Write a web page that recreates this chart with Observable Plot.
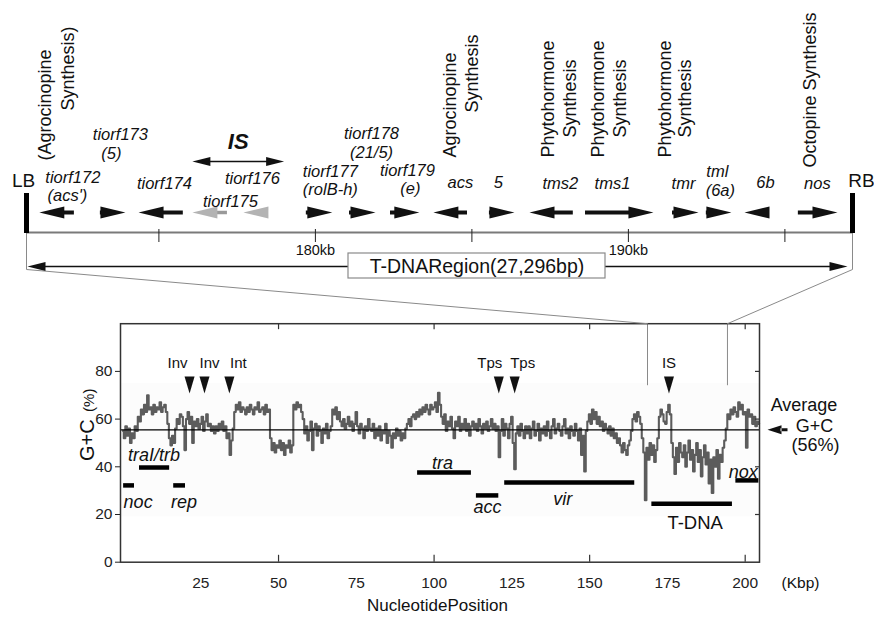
<!DOCTYPE html>
<html>
<head>
<meta charset="utf-8">
<script src="https://cdn.jsdelivr.net/npm/d3@7"></script>
<script src="https://cdn.jsdelivr.net/npm/@observablehq/plot@0.6"></script>
<style>
  body { margin: 0; background: #fff; }
  #fig { position: relative; width: 874px; height: 620px; overflow: hidden; background: #fff; }
  #fig svg { position: absolute; left: 0; top: 0; }
</style>
</head>
<body>
<div id="fig"></div>
<script>
// ---------------- DATA ----------------
// T-DNA gene map (genome coordinates, kb)
const borderName = ["LB", "RB"];
const borderPos = [170.77, 197.16];
const mapTicks = [175, 180, 185, 190, 195];
const mapTickLabels = [180, 190];
const geneName = ["tiorf172","tiorf173","tiorf174","tiorf175","tiorf176","tiorf177","tiorf178","tiorf179","acs","5","tms2","tms1","tmr","tml","6b","nos"];
const geneAlias = ["(acs')","(5)","","","","(rolB-h)","(21/5)","(e)","","","","","","(6a)","",""];
const geneStart = [171.18,173.13,174.35,176.07,177.70,179.71,181.09,182.40,183.77,185.56,186.84,188.63,191.41,192.49,193.71,195.43];
const geneEnd   = [172.30,173.93,175.78,177.19,178.50,180.54,181.92,183.32,184.86,186.36,188.24,190.80,192.24,193.29,194.50,196.68];
const geneStrand = [-1,1,-1,-1,-1,1,1,1,-1,1,-1,1,1,1,-1,1];
const isGenes = ["tiorf175","tiorf176"];
const isElement = [176.07, 179.0];
const isLabel = "IS";
const funcGene = ["tiorf172","acs","tms2","tms1","tmr","nos"];
const funcText = [["(Agrocinopine","Synthesis)"],["Agrocinopine","Synthesis"],["Phytohormone","Synthesis"],["Phytohormone","Synthesis"],["Phytohormone","Synthesis"],["Octopine Synthesis"]];
const regionLabel = "T-DNARegion(27,296bp)";

// G+C content along the plasmid (Kbp, % G+C), sampled every 0.5 kbp
const gcStart = 0, gcStep = 0.5;
const gcValues = [
  55,52,57,53,56,50,54,52,57,55,61,59,64,62,66,63,70,64,65,62,
  66,63,65,64,67,63,65,66,63,58,52,49,53,50,56,60,58,62,61,57,
  47,60,63,58,61,50,59,57,60,56,58,61,55,59,62,57,58,55,57,54,
  57,55,58,56,59,55,57,52,54,45,51,56,63,66,64,67,63,65,64,62,
  65,63,66,64,62,65,64,67,63,64,65,62,66,63,64,52,47,50,46,49,
  48,51,47,50,45,49,48,51,46,49,66,64,67,65,66,63,60,54,57,51,
  55,59,47,56,58,53,57,55,50,56,54,58,52,55,57,64,62,65,60,63,
  59,57,60,56,58,61,57,59,55,58,63,57,54,58,56,52,57,55,60,56,
  55,58,52,56,53,57,51,55,54,58,50,55,53,48,54,52,56,53,55,51,
  54,52,56,58,60,57,61,62,60,63,61,64,62,65,63,66,64,62,66,64,
  65,67,63,71,66,61,58,62,55,59,57,61,56,52,59,57,61,55,58,56,
  60,55,58,53,57,59,56,58,55,60,57,54,58,56,59,55,57,60,56,58,
  55,57,44,55,60,53,58,56,52,58,61,50,39,54,57,53,58,55,52,57,
  54,57,52,56,59,53,55,58,51,56,54,57,53,59,55,52,57,60,54,56,
  58,55,53,57,60,54,56,52,57,55,53,58,55,51,56,45,53,38,55,59,
  62,58,64,60,63,58,61,57,59,55,58,56,54,57,53,56,52,54,50,52,
  49,46,50,47,45,49,51,55,60,62,59,63,61,58,52,46,26,48,43,50,
  45,49,42,47,52,61,64,62,59,58,63,66,62,50,44,37,48,42,50,46,
  44,49,40,46,51,43,47,38,45,50,42,47,36,44,49,41,46,33,43,29,
  44,40,47,35,45,42,48,51,56,62,60,64,62,65,63,61,67,64,66,62,
  63,48,64,61,62,58,61,57,59,58
];
const gcDomain = [-0.8, 204.6];
const avgGC = 55.5;
const avgLabel = ["Average", "G+C", "(56%)"];
const xTickLabels = [25, 50, 75, 100, 125, 150, 175, 200];
const xMajorTicks = [50, 100, 150, 200];
const yTicks = [0, 20, 40, 60, 80];
const zoomWindow = [168.6, 194.3];
const locusName  = ["noc","traI/trb","rep","tra","acc","vir","T-DNA","nox"];
const locusStart = [0.2, 5.3, 16.3, 94.7, 113.6, 122.7, 170.0, 197.0];
const locusEnd   = [3.7, 15.0, 20.1, 112.0, 120.8, 164.5, 195.9, 204.4];
const locusLevel = [32.2, 39.7, 32.2, 37.6, 28.0, 33.4, 24.5, 34.3];
const siteName = ["Inv","Inv","Int","Tps","Tps","IS"];
const sitePos  = [21.4, 26.2, 34.2, 120.8, 125.9, 175.5];

// ---------------- LAYOUT / STYLE ----------------
const FONT = '"Liberation Sans", Arial, Helvetica, sans-serif';
const R = {arrow: 212, axisLine: 232, barTop: 193, tickTop: 229, tickBottom: 242, tickLabel: 250,
           isArrow: 161, isLabel: 141, region: 266, boxTop: 253, boxBottom: 278, knee: 269, borderLabel: 180};
const nameLayout = {
  tiorf172: [16, 177, 10.5, 195], tiorf173: [7.5, 134, -1.5, 153], tiorf174: [3.5, 183],
  tiorf175: [20.5, 201], tiorf176: [-3.5, 178], tiorf177: [11, 171, 11, 189],
  tiorf178: [9, 133, 9, 152], tiorf179: [2.5, 170, 5.5, 188], acs: [10, 182], "5": [-3.5, 182],
  tms2: [9, 183], tms1: [-7, 183], tmr: [-2, 183], tml: [-1.5, 171, 1.5, 190], "6b": [8.5, 182], nos: [-0.5, 183]
};
const funcLayout = {tiorf172: [[-11.5,160],[11.5,110]], acs: [[0,157],[22,112]], tms2: [[-3,157],[19,137]],
  tms1: [[-21,157],[1,137]], tmr: [[-20,157],[0,137]], nos: [[-7.5,167]]};
const locusLayout = {noc: [0, 16.7], "traI/trb": [-0.5, -12], rep: [4.5, 16.7], tra: [-2, -9],
  acc: [0, 11.7], vir: [-7, 17], "T-DNA": [3, 19], nox: [-4, -8]};
const siteLabelDx = [-12, 5, 9, -9, 8, 0];
const siteTipY = 70.7, siteLabelY = 83.5;

// custom arrowhead symbol: tip at origin, pointing right
const head = (L, H, S = 0, T = 0) => ({
  draw(ctx) {
    ctx.moveTo(0, 0); ctx.lineTo(-L, -H / 2); ctx.lineTo(-L, H / 2); ctx.closePath();
    if (S > 0) ctx.rect(-L - S, -T / 2, S + 1, T);
  }
});

// scales shared between the two panels
const topX = Plot.scale({x: {domain: borderPos, range: [26, 852]}});
const botX = Plot.scale({x: {domain: gcDomain, range: [120, 759]}});
const botY = Plot.scale({y: {domain: [0, 100], range: [561.7, 323.2]}});
const tShift = (v, dx) => topX.invert(topX.apply(v) + dx);
const bShift = (v, dx) => botX.invert(botX.apply(v) + dx);
const bShiftY = (v, dy) => botY.invert(botY.apply(v) + dy);

// ---------------- BOTTOM PANEL: G+C content ----------------
const gc = gcValues.map((v, i) => ({kbp: gcStart + i * gcStep, gc: v}));
const loci = locusName.map((name, i) => ({name, x1: locusStart[i], x2: locusEnd[i], y: locusLevel[i],
  mid: (locusStart[i] + locusEnd[i]) / 2}));
const locusText = loci.map(d => {
  const [dx, dy] = locusLayout[d.name];
  const base = d.name === "noc" ? d.x1 : d.mid;
  return {...d, tx: bShift(base, dx), ty: bShiftY(d.y, dy)};
});
const sites = siteName.map((name, i) => ({name, x: sitePos[i], lx: bShift(sitePos[i], siteLabelDx[i])}));
const xMax = gcDomain[1];
const avgText = [[44.5, -25], [55, -4], [56, 15]].map(([dx, dy], i) => ({t: avgLabel[i], x: bShift(xMax, dx), y: bShiftY(avgGC, dy)}));

const bottomPlot = Plot.plot({
  width: 874, height: 620,
  marginLeft: 120, marginRight: 115, marginTop: 323.2, marginBottom: 58.3,
  x: {domain: gcDomain, ticks: xTickLabels, tickSize: 0, tickPadding: 15, label: null},
  y: {domain: [0, 100], ticks: yTicks, tickSize: 5, tickPadding: 3, label: null},
  style: {fontFamily: FONT, fontSize: "15.5px", color: "#222", background: "white"},
  marks: [
    Plot.rect([0], {x1: gcDomain[0], x2: gcDomain[1], y1: 19, y2: 75, fill: "#fcfcfc"}),
    Plot.line(gc, {x: "kbp", y: "gc", curve: "step", stroke: "#5c5c5c", strokeWidth: 2.1}),
    Plot.ruleY([avgGC], {stroke: "#000", strokeWidth: 1.2}),
    Plot.ruleX(zoomWindow, {y1: 74, y2: 100, stroke: "#8a8a8a", strokeWidth: 1}),
    Plot.ruleY(loci, {x1: "x1", x2: "x2", y: "y", stroke: "#000", strokeWidth: 4.5}),
    Plot.text(locusText.filter(d => d.name === "noc"), {x: "tx", y: "ty", text: "name", textAnchor: "start",
      fontStyle: "italic", fontSize: 18, fontFamily: FONT, fill: "#111"}),
    Plot.text(locusText.filter(d => d.name !== "noc" && d.name !== "T-DNA"), {x: "tx", y: "ty", text: "name",
      fontStyle: "italic", fontSize: 18, fontFamily: FONT, fill: "#111"}),
    Plot.text(locusText.filter(d => d.name === "T-DNA"), {x: "tx", y: "ty", text: "name",
      fontSize: 18.5, fontFamily: FONT, fill: "#111"}),
    Plot.dot(sites, {x: "x", y: siteTipY, symbol: head(17, 10), rotate: 90, r: 5, fill: "#111", stroke: "none"}),
    Plot.text(sites, {x: "lx", y: siteLabelY, text: "name", fontSize: 15, fontFamily: FONT, fill: "#111"}),
    Plot.ruleX(xMajorTicks, {y1: 0, y2: 2.9, stroke: "#333", strokeWidth: 1.2}),
    Plot.ruleX(xMajorTicks, {y1: 97.5, y2: 100, stroke: "#333", strokeWidth: 1.2}),
    Plot.ruleY(yTicks.filter(d => d > 0), {x1: bShift(xMax, -4), x2: xMax, stroke: "#333", strokeWidth: 1.2}),
    Plot.frame({stroke: "#333", strokeWidth: 1.5}),
    Plot.dot([avgGC], {x: xMax, y: d => d, dx: 8, rotate: 180, symbol: head(14, 9, 6, 3), r: 5, fill: "#111", stroke: "none"}),
    Plot.text(avgText, {x: "x", y: "y", text: "t", fontSize: 18, fontFamily: FONT, fill: "#111"}),
    Plot.text(["NucleotidePosition"], {frameAnchor: "bottom", dx: -2.5, dy: 49, text: d => d, fontSize: 17, fontFamily: FONT, fill: "#111"}),
    Plot.text(["(Kbp)"], {frameAnchor: "bottom-right", dx: 41, dy: 26, textAnchor: "middle", text: d => d, fontSize: 15.5, fontFamily: FONT, fill: "#111"}),
    Plot.text(["G+C"], {frameAnchor: "left", dx: -33, dy: 18, rotate: -90, text: d => d, fontSize: 20, fontFamily: FONT, fill: "#111"}),
    Plot.text(["(%)"], {frameAnchor: "left", dx: -31, dy: -31, rotate: -90, text: d => d, fontSize: 15, fontFamily: FONT, fill: "#111"})
  ]
});

// ---------------- TOP PANEL: T-DNA gene map ----------------
const genes = geneName.map((name, i) => {
  const s = geneStrand[i], a = geneStart[i], b = geneEnd[i];
  const tip = s > 0 ? b : a, tail = s > 0 ? a : b;
  return {name, alias: geneAlias[i], strand: s, tip, tail, shaftEnd: tShift(tip, -s * 18),
          mid: (a + b) / 2, gray: isGenes.includes(name)};
});
const nameTexts = [];
genes.forEach(g => {
  const L = nameLayout[g.name];
  nameTexts.push({x: tShift(g.mid, L[0]), y: L[1], text: g.name});
  if (g.alias) nameTexts.push({x: tShift(g.mid, L[2]), y: L[3], text: g.alias});
});
const funcTexts = [];
funcGene.forEach((gname, i) => {
  const g = genes.find(d => d.name === gname);
  funcText[i].forEach((t, j) => {
    const [dx, yb] = funcLayout[gname][j];
    funcTexts.push({x: tShift(g.mid, dx), y: yb, text: t});
  });
});
const connectors = [0, 1].flatMap(i => [
  {k: i, x: borderPos[i], y: R.axisLine},
  {k: i, x: borderPos[i], y: R.knee},
  {k: i, x: topX.invert(botX.apply(zoomWindow[i])), y: botY.apply(100)}
]);
const borders = borderName.map((n, i) => ({n, x: borderPos[i]}));
const regionMidPx = 476.5, regionHalfPx = 128.5;
const regionBox = {x1: topX.invert(regionMidPx - regionHalfPx), x2: topX.invert(regionMidPx + regionHalfPx), x: topX.invert(regionMidPx)};
const regionEnds = [{x: tShift(borderPos[0], 1), rot: 180}, {x: tShift(borderPos[1], -5), rot: 0}];

const mapPlot = Plot.plot({
  width: 874, height: 620,
  x: {domain: borderPos, range: [26, 852], axis: null},
  y: {type: "identity", axis: null},
  style: {background: "transparent", overflow: "visible", fontFamily: FONT, fontSize: "17px", color: "#111"},
  marks: [
    Plot.line(connectors, {x: "x", y: "y", z: "k", stroke: "#8a8a8a", strokeWidth: 1}),
    Plot.ruleY([R.axisLine], {x1: borderPos[0], x2: borderPos[1], stroke: "#7a7a7a", strokeWidth: 2}),
    Plot.ruleX(mapTicks, {y1: R.tickTop, y2: R.tickBottom, stroke: "#222", strokeWidth: 1}),
    Plot.text(mapTickLabels, {x: d => d, y: R.tickLabel, text: d => `${d}kb`, fontSize: 14.5, fill: "#111"}),
    Plot.ruleX(borderPos, {y1: R.barTop, y2: R.axisLine + 1, stroke: "#000", strokeWidth: 5}),
    Plot.text(borders.filter(d => d.n === "LB"), {x: "x", y: R.borderLabel, text: "n", dx: -3, fontSize: 19, fill: "#111"}),
    Plot.text(borders.filter(d => d.n === "RB"), {x: "x", y: R.borderLabel, text: "n", dx: 9, fontSize: 19, fill: "#111"}),
    Plot.ruleY(genes.filter(d => !d.gray), {x1: "tail", x2: "shaftEnd", y: R.arrow, stroke: "#111", strokeWidth: 4}),
    Plot.ruleY(genes.filter(d => d.gray), {x1: "tail", x2: "shaftEnd", y: R.arrow, stroke: "#999", strokeWidth: 3.5}),
    Plot.dot(genes.filter(d => !d.gray), {x: "tip", y: R.arrow, symbol: head(25, 12), rotate: d => d.strand > 0 ? 0 : 180, r: 5, fill: "#111", stroke: "none"}),
    Plot.dot(genes.filter(d => d.gray), {x: "tip", y: R.arrow, symbol: head(25, 12), rotate: d => d.strand > 0 ? 0 : 180, r: 5, fill: "#b3b3b3", stroke: "none"}),
    Plot.text(nameTexts, {x: "x", y: "y", text: "text", fontStyle: "italic", fontSize: 16.5, fill: "#111"}),
    Plot.text(funcTexts, {x: "x", y: "y", text: "text", rotate: -90, textAnchor: "start", fontSize: 18, fill: "#111"}),
    Plot.ruleY([R.isArrow], {x1: tShift(isElement[0], 10), x2: tShift(isElement[1], -10), stroke: "#111", strokeWidth: 1.5}),
    Plot.dot([{x: isElement[0], rot: 180}, {x: isElement[1], rot: 0}], {x: "x", y: R.isArrow, rotate: "rot", symbol: head(18, 9), r: 5, fill: "#111", stroke: "none"}),
    Plot.text([isLabel], {x: (isElement[0] + isElement[1]) / 2, y: R.isLabel, text: d => d, fontStyle: "italic", fontWeight: "bold", fontSize: 22, fill: "#111"}),
    Plot.ruleY([R.region], {x1: tShift(borderPos[0], 8), x2: tShift(borderPos[1], -12), stroke: "#111", strokeWidth: 1.5}),
    Plot.dot(regionEnds, {x: "x", y: R.region, rotate: "rot", symbol: head(18, 9), r: 5, fill: "#111", stroke: "none"}),
    Plot.rect([regionBox], {x1: "x1", x2: "x2", y1: R.boxTop, y2: R.boxBottom, fill: "white", stroke: "#8a8a8a", strokeWidth: 1.2}),
    Plot.text([regionLabel], {x: regionBox.x, y: R.region, text: d => d, fontSize: 19.5, fill: "#111"})
  ]
});

const fig = document.getElementById("fig");
fig.appendChild(bottomPlot);
fig.appendChild(mapPlot);
</script>
</body>
</html>
